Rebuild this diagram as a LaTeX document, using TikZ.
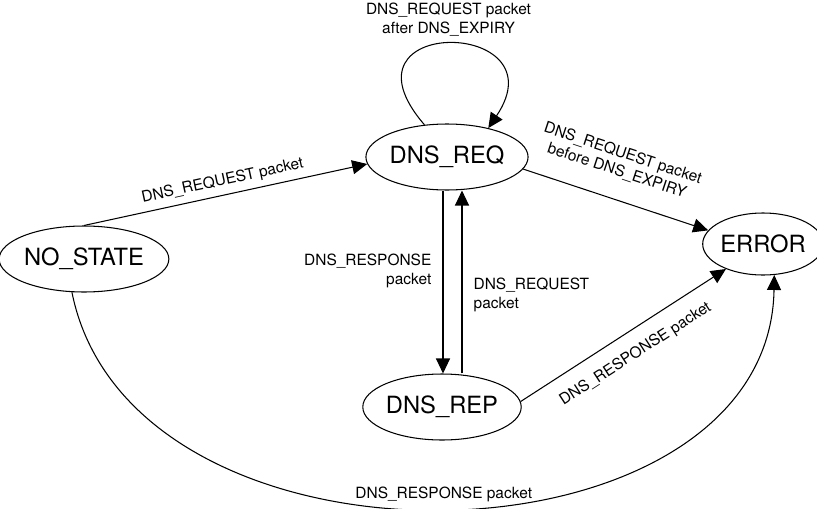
\documentclass[tikz,border=0pt]{standalone}
\usepackage{fontspec}
\setmainfont{TeX Gyre Heros}
\usetikzlibrary{shapes.geometric,arrows.meta}

\begin{document}
\begin{tikzpicture}[x=0.02cm,y=0.02cm,line width=0.6pt,
        st/.style={draw,ellipse,inner sep=0pt,font=\fontsize{13.5}{15}\selectfont},
        lbl/.style={font=\fontsize{8.8}{10.5}\selectfont,align=center},
        >={Triangle[length=0.3cm,width=0.28cm]}]
        \useasboundingbox (0,0) rectangle (817,508);
        \node[st,minimum width=2.88cm,minimum height=1.32cm] (nost) at (84,249) {NO\_STATE};
        \node[st,minimum width=2.52cm,minimum height=1.32cm] (req) at (447,351) {DNS\_REQ};
        \node[st,minimum width=2.64cm,minimum height=1.32cm] (rep) at (442,101) {DNS\_REP};
        \node[st,minimum width=2cm,minimum height=1.24cm] (err) at (763,264) {ERROR};
        \coordinate (dn) at ([xshift=-0.08cm]req.south);
        \coordinate (up) at ([xshift=0.3cm]req.south);
        \draw[->] (nost.north) -- node[lbl,sloped,above]{DNS\_REQUEST packet} (req.185);
        \draw[->] (req.125) .. controls +(-95,110) and +(74,110) .. node[lbl,above=1pt]{DNS\_REQUEST packet\\after DNS\_EXPIRY} (req.35);
        \draw[->] (req.-9) -- node[lbl,sloped,above=8pt,pos=0.46]{DNS\_REQUEST packet\\before DNS\_EXPIRY} (err.166);
        \draw[->] (dn) -- node[lbl,left=3pt,align=right,pos=0.44]{DNS\_RESPONSE\\packet} (dn |- rep.north);
        \draw[->] (up |- rep.north) -- node[lbl,right=3pt,align=left,pos=0.43]{DNS\_REQUEST\\packet} (up);
        \draw[->] (rep.4) -- node[lbl,sloped,below=5pt,pos=0.5]{DNS\_RESPONSE packet} (err.214);
        \draw[->] (nost.250) .. controls +(60,-300) and +(-5,-300) .. node[lbl,above,pos=0.5]{DNS\_RESPONSE packet} (err.290);
\end{tikzpicture}
\end{document}
